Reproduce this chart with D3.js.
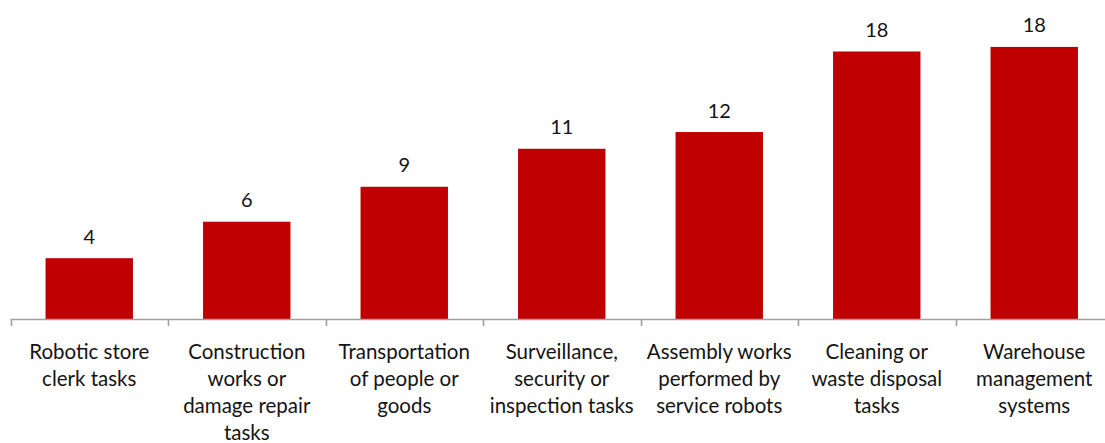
<!DOCTYPE html>
<html>
<head>
<meta charset="utf-8">
<script src="https://cdn.jsdelivr.net/npm/d3@7"></script>
<style>
  html, body { margin: 0; padding: 0; background: #fff; }
  svg { display: block; }
  text { font-family: Lato, "Open Sans", sans-serif; fill: #141414; }
</style>
</head>
<body>
<svg id="chart" width="1105" height="443"></svg>
<script>
// Service robot application areas (one line break per "\n" in the label)
const categories = [
  "Robotic store\nclerk tasks",
  "Construction\nworks or\ndamage repair\ntasks",
  "Transportation\nof people or\ngoods",
  "Surveillance,\nsecurity or\ninspection tasks",
  "Assembly works\nperformed by\nservice robots",
  "Cleaning or\nwaste disposal\ntasks",
  "Warehouse\nmanagement\nsystems"
];
const values = [4.0, 6.4, 8.7, 11.2, 12.3, 17.6, 17.9];
const yDomain = [0, 20];

const svg = d3.select("#chart");
const baseline = 319;
const left = 10.5, step = 157.5;

const x = d3.scaleBand()
  .domain(categories)
  .range([left, left + step * categories.length])
  .paddingInner(0.445)
  .paddingOuter(0.2225);

const y = d3.scaleLinear()
  .domain(yDomain)
  .range([baseline, baseline - 20 * 15.2]);

const fmt = d3.format(".0f");

// Bars
svg.append("g")
  .selectAll("rect")
  .data(values)
  .join("rect")
  .attr("x", (d, i) => x(categories[i]))
  .attr("y", d => y(d))
  .attr("width", x.bandwidth())
  .attr("height", d => y(0) - y(d))
  .attr("fill", "#c00000");

// Value labels above bars
svg.append("g")
  .selectAll("text")
  .data(values)
  .join("text")
  .attr("x", (d, i) => x(categories[i]) + x.bandwidth() / 2)
  .attr("y", d => y(d) - 14.5)
  .attr("text-anchor", "middle")
  .style("font-size", "20px")
  .text(d => fmt(d));

// Category axis: baseline with tick marks between categories
const axisG = svg.append("g").attr("class", "x-axis");
axisG.append("line")
  .attr("x1", left).attr("x2", 1105)
  .attr("y1", baseline + 0.5).attr("y2", baseline + 0.5)
  .attr("stroke", "#a0a0a0").attr("stroke-width", 1.6);

const tickPos = d3.range(categories.length + 1).map(i => left + i * x.step());
axisG.selectAll("line.tick")
  .data(tickPos)
  .join("line")
  .attr("class", "tick")
  .attr("x1", d => Math.round(d) + 0.5).attr("x2", d => Math.round(d) + 0.5)
  .attr("y1", baseline).attr("y2", baseline + 7)
  .attr("stroke", "#a0a0a0").attr("stroke-width", 1.6);

// Wrapped category labels
const lab = axisG.selectAll("text.cat")
  .data(categories)
  .join("text")
  .attr("class", "cat")
  .attr("text-anchor", "middle")
  .style("font-size", "20.5px")
  .attr("transform", d => `translate(${x(d) + x.bandwidth() / 2},${baseline + 39.5})`);

lab.selectAll("tspan")
  .data(d => d.split("\n"))
  .join("tspan")
  .attr("x", 0)
  .attr("y", (d, i) => i * 27)
  .text(d => d);
</script>
</body>
</html>
